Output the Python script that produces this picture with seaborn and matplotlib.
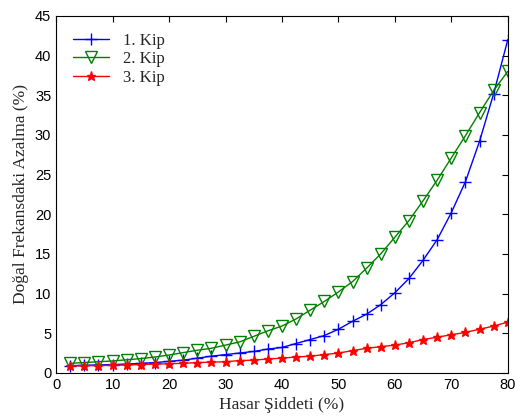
import numpy as np
import pandas as pd
import matplotlib
matplotlib.use("Agg")
import matplotlib.pyplot as plt
import seaborn as sns

# ── Data ──────────────────────────────────────────────────────────────────────
hasar = [2.5, 5, 7.5, 10, 12.5, 15, 17.5, 20, 22.5, 25, 27.5, 30, 32.5, 35,
         37.5, 40, 42.5, 45, 47.5, 50, 52.5, 55, 57.5, 60, 62.5, 65, 67.5,
         70, 72.5, 75, 77.5, 80]

kip1 = [0.9, 0.95, 1.0, 1.05, 1.1, 1.2, 1.3, 1.45, 1.6, 1.85, 2.1, 2.3, 2.5,
        2.7, 3.0, 3.2, 3.7, 4.2, 4.7, 5.5, 6.5, 7.4, 8.6, 10.1, 11.9, 14.2,
        16.8, 20.2, 24.1, 29.2, 35.2, 42.0]

kip2 = [1.2, 1.3, 1.4, 1.5, 1.65, 1.8, 2.0, 2.25, 2.55, 2.85, 3.1, 3.5, 3.9,
        4.6, 5.3, 5.9, 6.8, 7.9, 9.0, 10.2, 11.5, 13.2, 15.0, 17.1, 19.2,
        21.7, 24.3, 27.1, 29.9, 32.8, 35.6, 38.0]

kip3 = [0.85, 0.9, 0.92, 0.95, 1.0, 1.05, 1.1, 1.15, 1.2, 1.3, 1.35, 1.4,
        1.55, 1.6, 1.75, 1.85, 2.0, 2.1, 2.3, 2.5, 2.8, 3.1, 3.3, 3.5, 3.8,
        4.2, 4.5, 4.8, 5.1, 5.5, 5.9, 6.4]

SERIES = ["1. Kip", "2. Kip", "3. Kip"]
COLORS = ["#0000ff", "#008000", "#ff0000"]

df = pd.DataFrame({
    "hasar": hasar * 3,
    "azalma": kip1 + kip2 + kip3,
    "kip": [s for s in SERIES for _ in hasar],
})

sns.set_style("white")
plt.rcParams["font.family"] = ["Liberation Sans", "DejaVu Sans"]

fig = plt.figure(figsize=(5.15, 4.18), dpi=100)
ax = fig.add_axes([0.109, 0.108, 0.877, 0.854])

markers = {"1. Kip": "+", "2. Kip": "v", "3. Kip": "*"}
for name, col in zip(SERIES, COLORS):
    sub = df[df["kip"] == name]
    mk = markers[name]
    kw = dict(marker=mk, markersize=9, markeredgewidth=1.0, color=col,
              markeredgecolor=col, linewidth=1.0, label=name)
    if mk == "v":
        kw.update(markerfacecolor="none", markersize=8)
    elif mk == "*":
        kw.update(markerfacecolor=col, markersize=6.5)
    sns.lineplot(data=sub, x="hasar", y="azalma", ax=ax, **kw)

ax.set_xlim(0, 80)
ax.set_ylim(0, 45)
ax.set_xticks(range(0, 81, 10))
ax.set_yticks(range(0, 46, 5))
ax.tick_params(direction="in", top=True, right=True, length=4,
               labelsize=10.5, colors="black", width=0.8)
for sp in ax.spines.values():
    sp.set_color("black")
    sp.set_linewidth(0.8)

ax.set_xlabel("Hasar Şiddeti (%)", family="Liberation Serif", fontsize=12.5)
ax.set_ylabel("Doğal Frekansdaki Azalma (%)", family="Liberation Serif",
              fontsize=12.5)

leg = ax.legend(loc="upper left", frameon=False,
                prop={"family": "Liberation Serif", "size": 12},
                handlelength=2.2, borderaxespad=0.6, labelspacing=0.15)

fig.savefig("out.png", dpi=100)
